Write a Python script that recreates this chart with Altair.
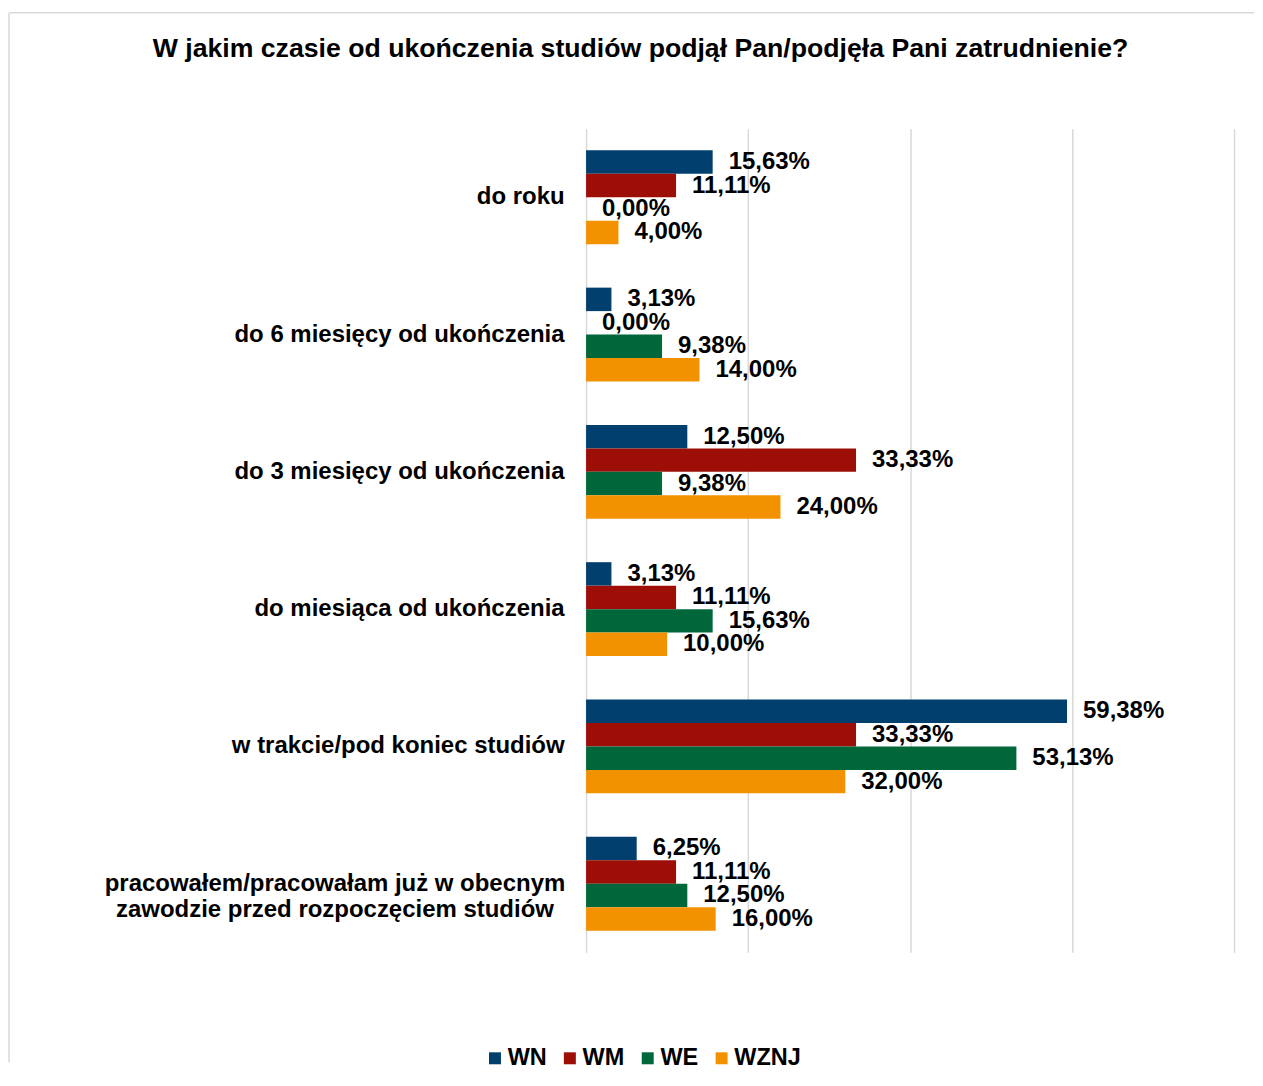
import altair as alt
import pandas as pd

categories = [
    "do roku",
    "do 6 miesięcy od ukończenia",
    "do 3 miesięcy od ukończenia",
    "do miesiąca od ukończenia",
    "w trakcie/pod koniec studiów",
    "pracowałem/pracowałam już w obecnym|zawodzie przed rozpoczęciem studiów",
]
series_names = ["WN", "WM", "WE", "WZNJ"]
series_colors = ["#003f6e", "#9c0e06", "#00673a", "#f39200"]

WN = [15.63, 3.13, 12.50, 3.13, 59.38, 6.25]
WM = [11.11, 0.00, 33.33, 11.11, 33.33, 11.11]
WE = [0.00, 9.38, 9.38, 15.63, 53.13, 12.50]
WZNJ = [4.00, 14.00, 24.00, 10.00, 32.00, 16.00]

title_text = "W jakim czasie od ukończenia studiów podjął Pan/podjęła Pani zatrudnienie?"
grid_values = [0, 20, 40, 60, 80]

rows = []
for name, vals in zip(series_names, [WN, WM, WE, WZNJ]):
    for cat, v in zip(categories, vals):
        rows.append({
            "category": cat,
            "series": name,
            "value": v,
            "label": f"{v:.2f}".replace(".", ",") + "%",
        })
df = pd.DataFrame(rows)

FONT = "Liberation Sans"
multi_test = "indexof(datum.value, '|') >= 0"

y_enc = alt.Y(
    "category:N",
    sort=categories,
    scale=alt.Scale(paddingInner=0.316, paddingOuter=0.158),
    axis=alt.Axis(
        title=None,
        domain=False,
        ticks=False,
        labelPadding={"condition": {"test": multi_test, "value": 252}, "value": 22},
        labelAlign={"condition": {"test": multi_test, "value": "center"}, "value": "right"},
        labelFont=FONT,
        labelFontSize=24,
        labelFontWeight="bold",
        labelColor="#000000",
        labelLimit=600,
        labelLineHeight=26,
        labelExpr="split(datum.label, '|')",
    ),
)
yoff_enc = alt.YOffset(
    "series:N", sort=series_names, scale=alt.Scale(paddingInner=0, paddingOuter=0)
)
x_enc = alt.X(
    "value:Q",
    scale=alt.Scale(domain=[0, 80], nice=False),
    axis=alt.Axis(
        title=None,
        labels=False,
        ticks=False,
        domain=False,
        values=grid_values,
        grid=True,
        gridColor="#d9d9d9",
        gridWidth=1.5,
    ),
)

bars = alt.Chart(df).mark_bar().encode(
    x=x_enc,
    y=y_enc,
    yOffset=yoff_enc,
    color=alt.Color(
        "series:N",
        sort=series_names,
        scale=alt.Scale(domain=series_names, range=series_colors),
        legend=alt.Legend(
            title=None,
            orient="none",
            legendX=-103,
            legendY=919,
            direction="horizontal",
            symbolType="square",
            symbolSize=144,
            symbolStrokeWidth=0,
            symbolOpacity=1,
            labelFont=FONT,
            labelFontSize=23.5,
            labelFontWeight="bold",
            labelColor="#000000",
            labelOffset=1,
            columnPadding=11,
            padding=0,
        ),
    ),
)

labels = alt.Chart(df).mark_text(
    align="left",
    baseline="middle",
    dx=16,
    font=FONT,
    fontSize=24,
    fontWeight="bold",
    color="#000000",
).encode(
    x=alt.X("value:Q"),
    y=alt.Y("category:N", sort=categories),
    yOffset=alt.YOffset("series:N", sort=series_names),
    text="label:N",
)

frame_src = alt.InlineData(values=[{"k": 1}])
frame_top = alt.Chart(frame_src).mark_rule(color="#d9d9d9", strokeWidth=1.5).encode(
    x=alt.value(-577.5), x2=alt.value(669), y=alt.value(-116)
)
frame_left = alt.Chart(frame_src).mark_rule(color="#d9d9d9", strokeWidth=1.5).encode(
    x=alt.value(-578), y=alt.value(-116), y2=alt.value(935)
)

chart = (
    alt.layer(frame_top, frame_left, bars, labels)
    .properties(
        width=649,
        height=825,
        padding={"left": 0, "top": 3, "right": 0, "bottom": 0},
        title=alt.TitleParams(
            text=title_text,
            font=FONT,
            fontSize=26.7,
            fontWeight="bold",
            color="#000000",
            anchor="middle",
            frame="group",
            dx=-270,
            baseline="alphabetic",
            offset=-72,
        ),
    )
    .configure_view(stroke=None)
)

chart.save("out.html", embed_options={"renderer": "svg", "actions": False})
